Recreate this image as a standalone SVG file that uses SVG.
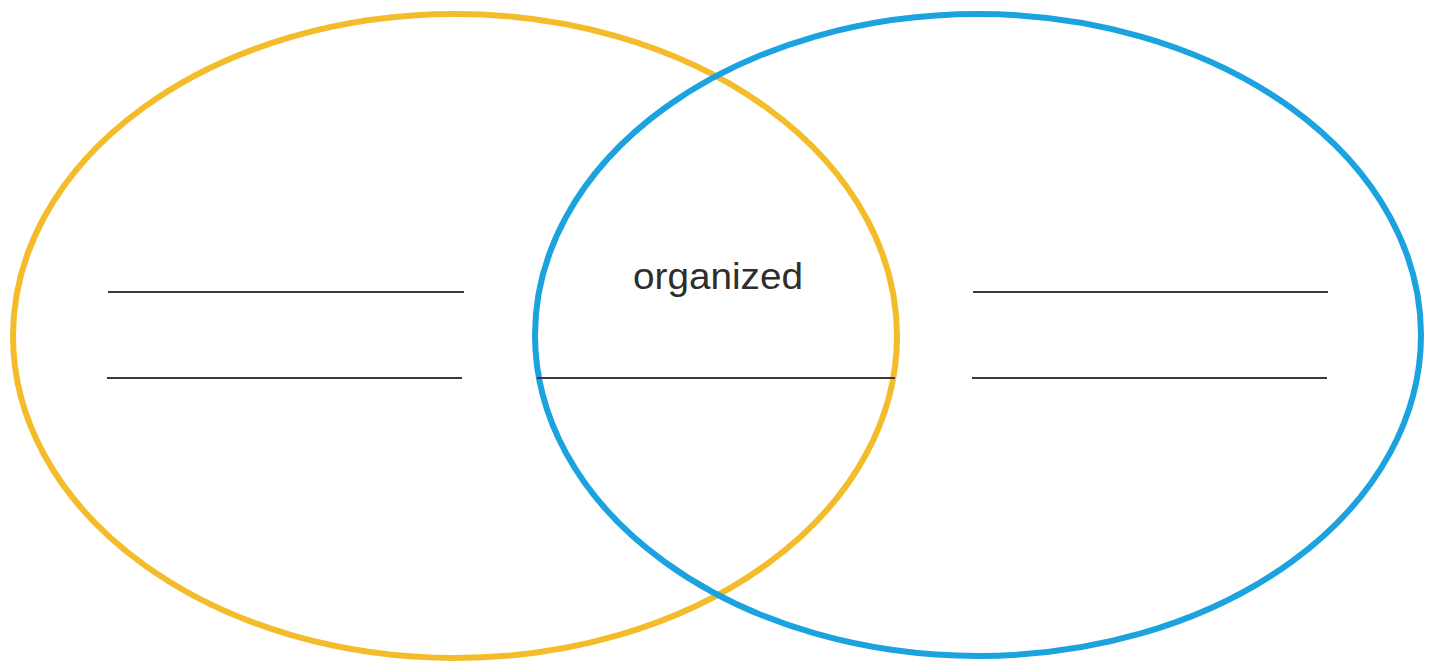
<svg xmlns="http://www.w3.org/2000/svg" width="1431" height="664" viewBox="0 0 1431 664">
<style>
.ring{fill:none;stroke-width:6}
.rule{stroke:#3a3a3a;stroke-width:2}
.lbl{font-family:"Liberation Sans",Arial,sans-serif;font-size:37px;fill:#2e2e2e}
</style>
<rect width="1431" height="664" fill="#ffffff"/>
<g id="left-set"><ellipse class="ring" cx="455" cy="336" rx="442" ry="322" stroke="#F4BC2A"/></g>
<g id="right-set"><ellipse class="ring" cx="978" cy="335" rx="443" ry="321" stroke="#1BA3DF"/></g>
<g id="connectors">
<line class="rule" x1="108" y1="292" x2="464" y2="292"/>
<line class="rule" x1="107" y1="378" x2="462" y2="378"/>
<line class="rule" x1="537" y1="378" x2="895" y2="378"/>
<line class="rule" x1="973" y1="292" x2="1328" y2="292"/>
<line class="rule" x1="972" y1="378" x2="1327" y2="378"/>
</g>
<g id="label"><text class="lbl" x="633" y="289" textLength="170" lengthAdjust="spacingAndGlyphs">organized</text></g>
</svg>
